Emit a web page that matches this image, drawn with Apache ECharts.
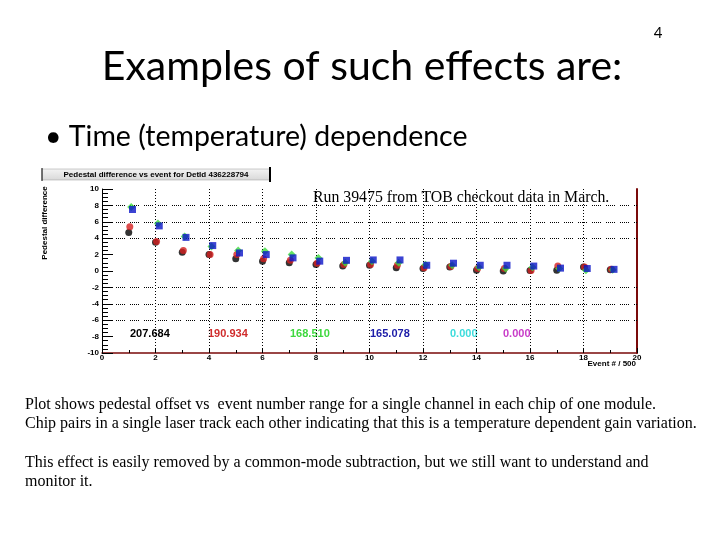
<!DOCTYPE html>
<html>
<head>
<meta charset="utf-8">
<script src="https://cdn.jsdelivr.net/npm/echarts@6/dist/echarts.min.js"></script>
<style>
html,body{margin:0;padding:0;background:#fff;}
#chart{width:720px;height:540px;}
</style>
</head>
<body>
<div id="chart"></div>
<script>
// ---- data ----
const events = [1,2,3,4,5,6,7,8,9,10,11,12,13,14,15,16,17,18,19];
const seriesNames = ['chip1','chip2','chip3','chip4'];
const xOffsets = [0.0, 0.04, 0.09, 0.14];
const blackVals = [4.7,3.5,2.3,2.0,1.5,1.2,1.0,0.8,0.6,0.7,0.4,0.3,0.5,0.1,0.0,0.05,0.1,0.5,0.15];
const redVals   = [5.4,3.6,2.5,2.0,2.0,1.5,1.3,0.95,0.8,0.8,0.7,0.4,0.55,0.3,0.3,0.05,0.6,0.5,0.2];
const greenVals = [7.8,5.8,4.2,3.0,2.5,2.4,2.0,1.6,1.0,1.2,1.0,0.75,0.7,0.45,0.3,0.45,0.3,0.1,0.15];
const blueVals  = [7.5,5.5,4.1,3.1,2.2,2.0,1.6,1.2,1.3,1.35,1.35,0.7,0.95,0.7,0.7,0.6,0.35,0.3,0.2];
const gridYLines = [8,6,4,-2,-4,-6];
const chipLabels = ['207.684','190.934','168.510','165.078','0.000','0.000'];
const yMin = -10, yMax = 10, xMin = 0, xMax = 20;

const colors = ['#000000','#d42020','#3cdc3c','#0a14c8'];
const labelColors = ['#000000','#d02c2c','#3ed83e','#1c1ca8','#3cdcdc','#c83cc8'];
const symbols = ['circle','circle','diamond','rect'];
const symbolSizes = [7,7,8,7];
const allVals = [blackVals, redVals, greenVals, blueVals];

const chart = echarts.init(document.getElementById('chart'));

const series = allVals.map((vals, i) => ({
  name: seriesNames[i],
  type: 'scatter',
  symbol: symbols[i],
  symbolSize: symbolSizes[i],
  itemStyle: {color: colors[i]},
  z: 3 + i,
  data: events.map((e, k) => [e + xOffsets[i], vals[k]]),
  markLine: i === 0 ? {
    silent: true, symbol: 'none', label: {show: false},
    lineStyle: {color: '#000', width: 1, type: [1,1,1,1,1,1,1,1,1,5]},
    data: gridYLines.map(v => ({yAxis: v}))
  } : undefined
}));

const labelX = [130, 208, 290, 370, 450, 503];
const serif = '16px "Liberation Serif"';

const graphic = [
  {type:'text', x:362, y:67, style:{text:'Examples of such effects are:', font:'41px Lato', fill:'#000', textAlign:'center', textVerticalAlign:'middle'}},
  {type:'text', x:658, y:33, style:{text:'4', font:'15px Lato', fill:'#000', textAlign:'center', textVerticalAlign:'middle'}},
  {type:'text', x:45, y:137, style:{text:'• Time (temperature) dependence', font:'28.5px Lato', fill:'#000', textVerticalAlign:'middle'}},
  {type:'rect', shape:{x:42, y:169, width:228, height:11}, style:{fill:new echarts.graphic.LinearGradient(0,0,0,1,[{offset:0,color:'#f4f4f4'},{offset:1,color:'#d8d8d8'}]), stroke:'#999', lineWidth:0.5}},
  {type:'line', shape:{x1:42, y1:168, x2:42, y2:181}, style:{stroke:'#000', lineWidth:1}},
  {type:'line', shape:{x1:270, y1:167, x2:270, y2:182}, style:{stroke:'#000', lineWidth:2}},
  {type:'text', x:156, y:175, style:{text:'Pedestal difference vs event for DetId 436228794', font:'bold 8px Arial', fill:'#000', textAlign:'center', textVerticalAlign:'middle'}},
  {type:'text', x:45, y:223, rotation:Math.PI/2, style:{text:'Pedestal difference', font:'bold 8px Arial', fill:'#000', textAlign:'center', textVerticalAlign:'middle'}},
  {type:'text', x:313, y:198, style:{text:'Run 39475 from TOB checkout data in March.', font:'15.8px "Liberation Serif"', fill:'#000', textVerticalAlign:'middle'}},
  {type:'text', x:636, y:364, style:{text:'Event # / 500', font:'bold 8px Arial', fill:'#000', textAlign:'right', textVerticalAlign:'middle'}},
  {type:'text', x:25, y:405, style:{text:'Plot shows pedestal offset vs  event number range for a single channel in each chip of one module.', font:serif, fill:'#000', textVerticalAlign:'middle'}},
  {type:'text', x:25, y:424, style:{text:'Chip pairs in a single laser track each other indicating that this is a temperature dependent gain variation.', font:serif, fill:'#000', textVerticalAlign:'middle'}},
  {type:'text', x:25, y:463, style:{text:'This effect is easily removed by a common-mode subtraction, but we still want to understand and', font:serif, fill:'#000', textVerticalAlign:'middle'}},
  {type:'text', x:25, y:482, style:{text:'monitor it.', font:serif, fill:'#000', textVerticalAlign:'middle'}}
];
chipLabels.forEach((t, i) => {
  graphic.push({type:'text', x:labelX[i], y:334, style:{text:t, font:'bold 11px Arial', fill:labelColors[i], textVerticalAlign:'middle'}});
});

chart.setOption({
  animation: false,
  backgroundColor: '#fff',
  grid: {left:102, right:83, top:189, bottom:187},
  xAxis: {
    type:'value', min:xMin, max:xMax, interval:2,
    axisLine:{show:true, onZero:false, lineStyle:{color:'#7a0a0a', width:1.5}},
    axisTick:{show:true, inside:true, length:5, lineStyle:{color:'#000'}},
    minorTick:{show:true, splitNumber:2, length:3, lineStyle:{color:'#000'}},
    axisLabel:{color:'#000', fontFamily:'Arial', fontWeight:'bold', fontSize:8, margin:1},
    splitLine:{show:true, lineStyle:{color:'#000', width:1, type:[1,2]}}
  },
  yAxis: [{
    type:'value', min:yMin, max:yMax, interval:2,
    axisLine:{show:true, onZero:false, lineStyle:{color:'#000', width:1}},
    axisTick:{show:true, inside:true, length:11, lineStyle:{color:'#000'}},
    minorTick:{show:true, splitNumber:4, length:6, lineStyle:{color:'#000'}},
    axisLabel:{color:'#000', fontFamily:'Arial', fontWeight:'bold', fontSize:8, margin:3},
    splitLine:{show:false}
  },{
    type:'value', min:yMin, max:yMax, interval:2, position:'right',
    axisLine:{show:true, onZero:false, lineStyle:{color:'#7a0a0a', width:2}},
    axisTick:{show:false}, axisLabel:{show:false}, splitLine:{show:false}
  }],
  series: series,
  graphic: graphic
});
</script>
</body>
</html>
